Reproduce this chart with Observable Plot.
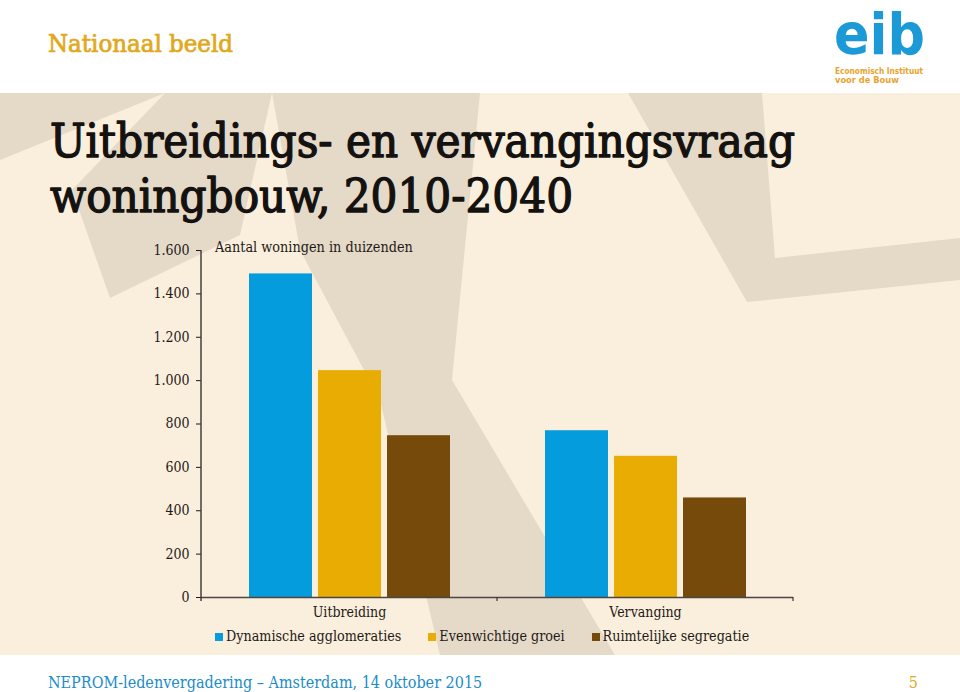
<!DOCTYPE html>
<html>
<head>
<meta charset="utf-8">
<script src="https://cdn.jsdelivr.net/npm/d3@7"></script>
<script src="https://cdn.jsdelivr.net/npm/@observablehq/plot@0.6"></script>
<style>
  body { margin: 0; background: #fff; }
  #page { position: relative; width: 960px; height: 692px; background: #fff; overflow: hidden; color: #1e1a17; }
  #bg { position: absolute; left: 0; top: 0; }
  #txt { position: absolute; left: 0; top: 0; }
  #chart { position: absolute; left: 0; top: 230px; }
  #legend { position: absolute; left: 215px; top: 628px; display: flex; gap: 27px; font-size: 14.2px; line-height: 16px; white-space: nowrap;
            font-family: "DejaVu Serif Condensed", "DejaVu Serif", serif; font-stretch: condensed; color: #1e1a17; }
  #legend .item { display: flex; align-items: center; }
  #legend .sw { width: 8px; height: 8px; margin-right: 3px; margin-top: 2px; }
</style>
</head>
<body>
<div id="page">
  <svg id="bg" width="960" height="692">
    <rect x="0" y="93" width="960" height="562" fill="#FAEEDC"></rect>
    <g fill="#E5D9C8">
      <polygon points="0,93 165,93 0,160"></polygon>
      <polygon points="165,93 272,93 240,235 110,298 72,190"></polygon>
      <polygon points="272,93 480,93 452,380 615,655 440,655 380,400 300,250"></polygon>
      <polygon points="628,93 762,93 775,258 960,238 960,280 747,302"></polygon>
    </g>
  </svg>
  <svg id="txt" width="960" height="692"></svg>
  <div id="chart"></div>
  <div id="legend"></div>
</div>
<script>
// ---- data ----
const groups = ["Uitbreiding", "Vervanging"];
const scenarios = ["Dynamische agglomeraties", "Evenwichtige groei", "Ruimtelijke segregatie"];
const scenarioColors = ["#049CDC", "#E8AC03", "#764A0B"];
const uitbreidingValues = [1492, 1046, 746];
const vervangingValues = [769, 651, 459];
const yTicks = [0, 200, 400, 600, 800, 1000, 1200, 1400, 1600];

const header = "Nationaal beeld";
const titleLines = ["Uitbreidings- en vervangingsvraag", "woningbouw, 2010-2040"];
const unitLabel = "Aantal woningen in duizenden";
const footer = "NEPROM-ledenvergadering \u2013 Amsterdam, 14 oktober 2015";
const pageNumber = "5";

const seriesByGroup = [uitbreidingValues, vervangingValues];
const data = groups.flatMap((g, gi) => scenarios.map((s, si) => ({group: g, scenario: s, value: seriesByGroup[gi][si]})));

const nl = d3.formatLocale({decimal: ",", thousands: ".", grouping: [3], currency: ["\u20ac", ""]});
const fmt = nl.format(",d");

const FONT = "'DejaVu Serif Condensed', 'DejaVu Serif', serif";

// ---- page texts ----
const txt = d3.select("#txt");
// header
txt.append("text").attr("x", 48).attr("y", 52).attr("font-size", 24).attr("fill", "#E2A81C")
  .attr("stroke", "#E2A81C").attr("stroke-width", 0.7)
  .attr("textLength", 185).attr("lengthAdjust", "spacingAndGlyphs")
  .attr("font-family", FONT).attr("font-stretch", "condensed").text(header);
// logo
txt.append("text").attr("x", 834).attr("y", 54).attr("font-family", "'DejaVu Sans', sans-serif").attr("font-weight", "bold")
  .attr("font-size", 57).attr("fill", "#1B9AD7").attr("textLength", 91).attr("lengthAdjust", "spacingAndGlyphs").text("eib");
txt.append("text").attr("x", 835).attr("y", 74).attr("font-family", "'DejaVu Sans', sans-serif").attr("font-weight", "bold")
  .attr("font-size", 8.3).attr("fill", "#E8A32E").attr("textLength", 88).attr("lengthAdjust", "spacingAndGlyphs").text("Economisch Instituut");
txt.append("text").attr("x", 835).attr("y", 83).attr("font-family", "'DejaVu Sans', sans-serif").attr("font-weight", "bold")
  .attr("font-size", 8.3).attr("fill", "#E8A32E").text("voor de Bouw");
// title, fitted to the reference width
const cv = document.createElement("canvas").getContext("2d");
cv.font = "100px 'DejaVu Serif Condensed'";
const w100 = cv.measureText(titleLines[0]).width;
const titleSize = Math.min(48, 100 * 745 / w100);
titleLines.forEach((line, i) => {
  txt.append("text").attr("x", 50).attr("y", 157 + i * 55).attr("font-size", titleSize)
    .attr("stroke", "#141210").attr("stroke-width", 1.3).attr("stroke-linejoin", "round")
    .attr("font-family", FONT).attr("font-stretch", "condensed").attr("fill", "#141210").text(line);
});
// unit label
txt.append("text").attr("x", 215).attr("y", 252).attr("font-size", 14.3).attr("font-family", FONT)
  .attr("font-stretch", "condensed").attr("fill", "#1e1a17").text(unitLabel);
// footer
txt.append("text").attr("x", 48).attr("y", 688).attr("font-size", 16).attr("font-family", FONT)
  .attr("font-stretch", "condensed").attr("fill", "#1A8DC9").text(footer);
txt.append("text").attr("x", 918).attr("y", 688).attr("font-size", 16).attr("text-anchor", "end").attr("font-family", FONT)
  .attr("fill", "#E2A81C").text(pageNumber);

// ---- chart ----
const plot = Plot.plot({
  width: 960,
  height: 400,
  marginLeft: 200,
  marginRight: 167,
  marginTop: 20,
  marginBottom: 33,
  style: {background: "transparent", fontFamily: FONT, fontSize: "14px", color: "#1e1a17", fontStretch: "condensed"},
  fx: {domain: groups, padding: 0, label: null, axis: "bottom", tickSize: 0, tickPadding: 10},
  x: {domain: scenarios, axis: null, paddingInner: 0.09, paddingOuter: 0.68},
  y: {domain: [0, 1600], ticks: yTicks, tickFormat: fmt, tickSize: 5, tickPadding: 7, label: null},
  color: {domain: scenarios, range: scenarioColors},
  marks: [
    Plot.barY(data, {fx: "group", x: "scenario", y: "value", fill: "scenario"}),
    Plot.ruleY([0], {stroke: "#4a4644", strokeWidth: 1.6})
  ]
});

// y-axis line and category boundary ticks, positioned with the plot's own scales
const fxS = plot.scale("fx"), yS = plot.scale("y");
const overlay = d3.select(plot).append("g").attr("stroke", "#3a3634").attr("stroke-width", 1.4);
const xStart = fxS.apply(groups[0]);
overlay.append("line").attr("x1", xStart).attr("x2", xStart)
  .attr("y1", yS.apply(yTicks[yTicks.length - 1])).attr("y2", yS.apply(0) + 4);
const bounds = groups.map(g => fxS.apply(g)).concat([fxS.apply(groups[groups.length - 1]) + fxS.bandwidth]);
bounds.slice(1).forEach(b => {
  overlay.append("line").attr("x1", b).attr("x2", b).attr("y1", yS.apply(0)).attr("y2", yS.apply(0) + 4).attr("stroke-width", 1.2);
});

document.getElementById("chart").appendChild(plot);

// ---- legend ----
const legend = d3.select("#legend");
scenarios.forEach((s, i) => {
  const it = legend.append("div").attr("class", "item");
  it.append("div").attr("class", "sw").style("background", scenarioColors[i]);
  it.append("span").text(s);
});
</script>
</body>
</html>
